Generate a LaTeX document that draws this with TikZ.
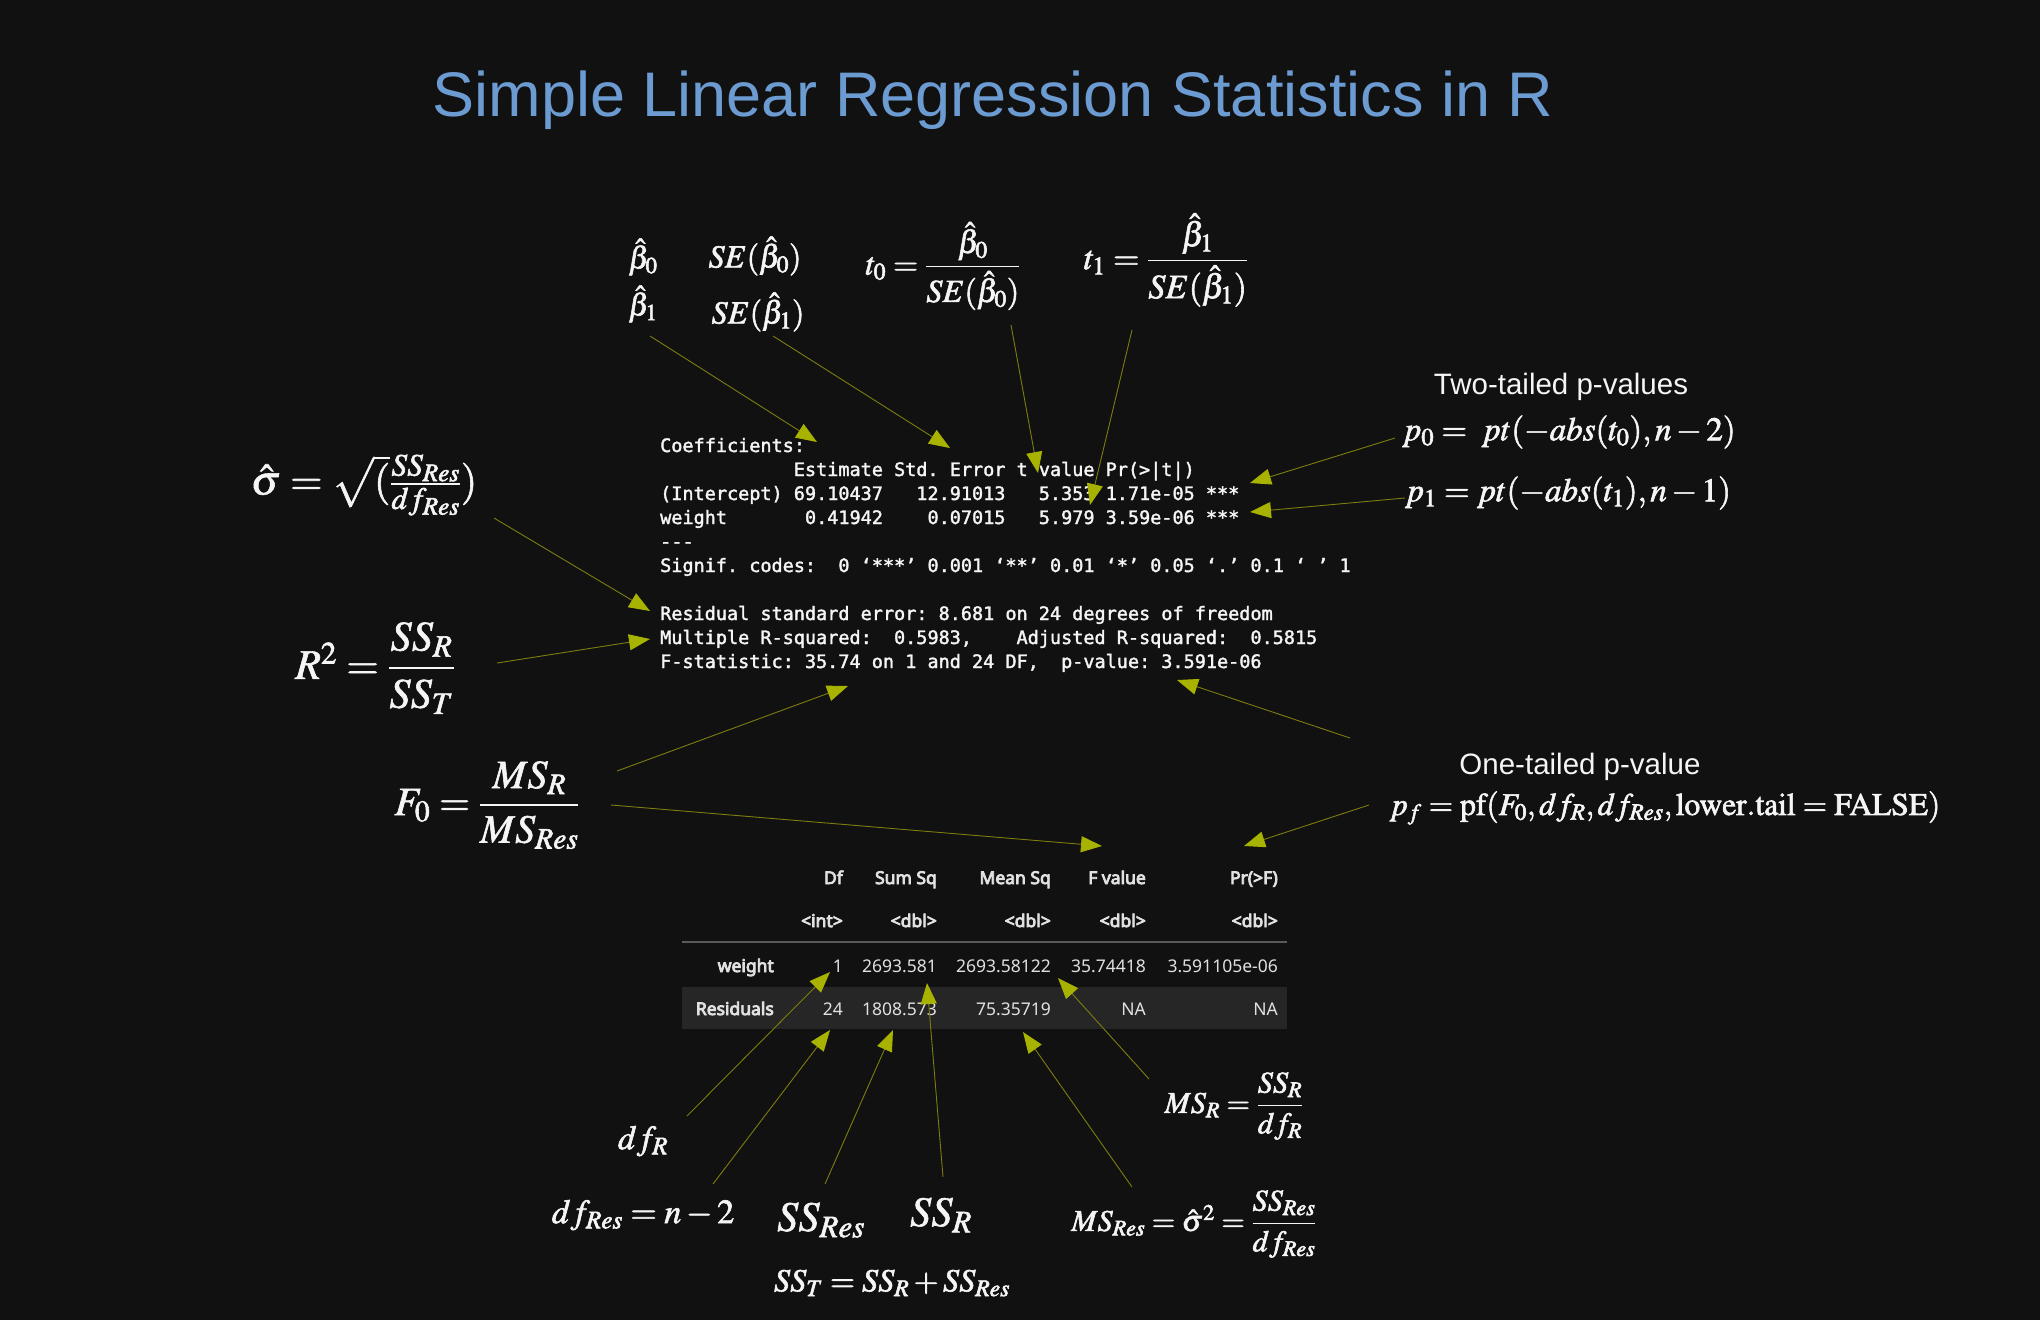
\documentclass[tikz,border=0pt]{standalone}
\usepackage{amsmath}
\usepackage{mathptmx}
\usepackage[no-math]{fontspec}
\setmainfont{Liberation Serif}
\newfontfamily\titlefont{Liberation Sans}
\newfontfamily\codefont{DejaVu Sans Mono}
\newfontfamily\tabfont{Noto Sans}
\usetikzlibrary{arrows.meta}
\definecolor{bg}{RGB}{17,17,17}
\definecolor{titlec}{RGB}{108,155,210}
\definecolor{tipc}{RGB}{168,178,0}
\definecolor{linec}{RGB}{125,125,15}
\definecolor{bandc}{RGB}{38,38,38}
\definecolor{rulec}{RGB}{90,90,90}
\definecolor{txt}{RGB}{245,245,245}
\definecolor{tabtxt}{RGB}{225,225,225}
\tikzset{
  thick text/.style={
    execute at begin node={\special{pdf:literal direct 2 Tr #1 w}},
    execute at end node={\special{pdf:literal direct 0 Tr}}},
  conn/.style={draw=linec, line width=0.9pt, -{Triangle[length=21pt,width=16pt,color=tipc]}},
  codeline/.style={anchor=base west, inner sep=0pt, text=txt, font=\codefont\fontsize{18.5}{24}\selectfont\frenchspacing, thick text=0.35},
  eq/.style={inner sep=0pt, text=txt, font=\fontsize{#1}{#1}\selectfont, thick text=0.6},
  lab/.style={inner sep=0pt, text=txt, font=\titlefont\fontsize{29.5}{34}\selectfont, anchor=base},
  hdr/.style={anchor=base east, inner sep=0pt, text=tabtxt, font=\tabfont\fontsize{17.5}{21}\selectfont, thick text=0.8},
  cell/.style={anchor=base east, inner sep=0pt, text=tabtxt, font=\tabfont\fontsize{17.5}{21}\selectfont},
}
\begin{document}
\begin{tikzpicture}[x=1pt,y=-1pt]
\useasboundingbox (0,0) rectangle (2040,1320);
\fill[bg] (0,0) rectangle (2040,1320);

% title
\node[anchor=base, inner sep=0pt, text=titlec, font=\titlefont\fontsize{63}{70}\selectfont] (title) at (993,116) {Simple Linear Regression Statistics in R};

% R summary output
\node[codeline] (c1) at (660,452) {Coefficients:};
\node[codeline] (c2) at (660,476) {~~~~~~~~~~~~Estimate~Std.~Error~t~value~Pr(>|t|)};
\node[codeline] (c3) at (660,500) {(Intercept)~69.10437~~~12.91013~~~5.353~1.71e-05~***};
\node[codeline] (c4) at (660,524) {weight~~~~~~~0.41942~~~~0.07015~~~5.979~3.59e-06~***};
\node[codeline] (c5) at (660,548) {-\kern0pt-\kern0pt-};
\node[codeline] (c6) at (660,572) {Signif.~codes:~~0~‘***’~0.001~‘**’~0.01~‘*’~0.05~‘.’~0.1~‘~’~1};
\node[codeline] (c8) at (660,620) {Residual~standard~error:~8.681~on~24~degrees~of~freedom};
\node[codeline] (c9) at (660,644) {Multiple~R-squared:~~0.5983,~~~~Adjusted~R-squared:~~0.5815};
\node[codeline] (c10) at (660,668) {F-statistic:~35.74~on~1~and~24~DF,~~p-value:~3.591e-06};

% ANOVA table
\fill[bandc] (682,987) rectangle (1287,1029);
\draw[rulec, line width=1.2pt] (682,942) -- (1287,942);
\node[hdr] (h1) at (843,884) {Df};
\node[hdr] (h2) at (937,884) {Sum Sq};
\node[hdr] (h3) at (1051,884) {Mean Sq};
\node[hdr] (h4) at (1146,884) {F value};
\node[hdr] (h5) at (1278,884) {Pr(>F)};
\node[hdr] (ty1) at (843,927) {<int>};
\node[hdr] (ty2) at (937,927) {<dbl>};
\node[hdr] (ty3) at (1051,927) {<dbl>};
\node[hdr] (ty4) at (1146,927) {<dbl>};
\node[hdr] (ty5) at (1278,927) {<dbl>};
\node[hdr] (rw) at (774,972) {weight};
\node[cell] (w1) at (843,972) {1};
\node[cell] (w2) at (937,972) {2693.581};
\node[cell] (w3) at (1051,972) {2693.58122};
\node[cell] (w4) at (1146,972) {35.74418};
\node[cell] (w5) at (1278,972) {3.591105e-06};
\node[hdr] (rr) at (774,1015) {Residuals};
\node[cell] (r1) at (843,1015) {24};
\node[cell] (r2c) at (937,1015) {1808.573};
\node[cell] (r3) at (1051,1015) {75.35719};
\node[cell] (r4) at (1146,1015) {NA};
\node[cell] (r5) at (1278,1015) {NA};

% formulas
\node[eq=31] (b0) at (643,257) {$\hat{\beta}_0$};
\node[eq=31] (b1) at (643,304) {$\hat{\beta}_1$};
\node[eq=32] (se0) at (755,256) {$SE(\hat{\beta}_0)$};
\node[eq=32] (se1) at (758,312) {$SE(\hat{\beta}_1)$};
\node[eq=32] (t0) at (943,266) {$t_0 = \dfrac{\hat{\beta}_0}{SE(\hat{\beta}_0)}$};
\node[eq=34] (t1) at (1166,260) {$t_1 = \dfrac{\hat{\beta}_1}{SE(\hat{\beta}_1)}$};
\node[eq=42] (sig) at (364,485) {$\hat{\sigma} = \sqrt{(}\frac{SS_{Res}}{df_{Res}})$};
\node[eq=42] (rsq) at (375,668) {$R^2 = \dfrac{SS_R}{SS_T}$};
\node[eq=40] (f0) at (487,805) {$F_0 = \dfrac{MS_R}{MS_{Res}}$};
\node[lab] (two) at (1561,394) {Two-tailed p-values};
\node[eq=33] (p0) at (1569,432) {$p_0 = \; pt(-abs(t_0), n-2)$};
\node[eq=33] (p1) at (1568,493) {$p_1 = pt(-abs(t_1), n-1)$};
\node[lab] (one) at (1580,774) {One-tailed p-value};
\node[eq=31.5] (pf) at (1665,808) {$p_f = \mathrm{pf}(F_0, df_R, df_{Res}, \mathrm{lower.tail} = \mathrm{FALSE})$};
\node[eq=34] (dfr) at (643,1141) {$df_R$};
\node[eq=34] (dfres) at (643,1215) {$df_{Res} = n-2$};
\node[eq=42] (ssres) at (821,1220) {$SS_{Res}$};
\node[eq=42] (ssr) at (941,1215) {$SS_R$};
\node[eq=32] (sst) at (892,1283) {$SS_T = SS_R + SS_{Res}$};
\node[eq=30] (msr) at (1234,1106) {$MS_R = \dfrac{SS_R}{df_R}$};
\node[eq=30] (msres) at (1194,1224) {$MS_{Res} = \hat{\sigma}^2 = \dfrac{SS_{Res}}{df_{Res}}$};

% connector end points
\coordinate (s1) at (650,336);   \coordinate (e1) at (817,442);
\coordinate (s2) at (773,336);   \coordinate (e2) at (950,448);
\coordinate (s3) at (1011,325);  \coordinate (e3) at (1038,473);
\coordinate (s4) at (1132,330);  \coordinate (e4) at (1090,505);
\coordinate (s5) at (1395,438);  \coordinate (e5) at (1250,483);
\coordinate (s6) at (1405,498);  \coordinate (e6) at (1250,512);
\coordinate (s7) at (494,518);   \coordinate (e7) at (650,611);
\coordinate (s8) at (497,663);   \coordinate (e8) at (650,639);
\coordinate (s9) at (617,771);   \coordinate (e9) at (848,686);
\coordinate (s10) at (611,805);  \coordinate (e10) at (1102,846);
\coordinate (s11) at (1350,738); \coordinate (e11) at (1177,680);
\coordinate (s12) at (1369,805); \coordinate (e12) at (1244,846);
\coordinate (s13) at (687,1116); \coordinate (e13) at (830,972);
\coordinate (s14) at (713,1184); \coordinate (e14) at (830,1030);
\coordinate (s15) at (825,1184); \coordinate (e15) at (893,1030);
\coordinate (s16) at (943,1177); \coordinate (e16) at (927,983);
\coordinate (s17) at (1132,1187);\coordinate (e17) at (1023,1032);
\coordinate (s18) at (1149,1079);\coordinate (e18) at (1058,978);

\foreach \i in {1,...,18} { \draw[conn] (s\i) -- (e\i); }
\end{tikzpicture}
\end{document}
